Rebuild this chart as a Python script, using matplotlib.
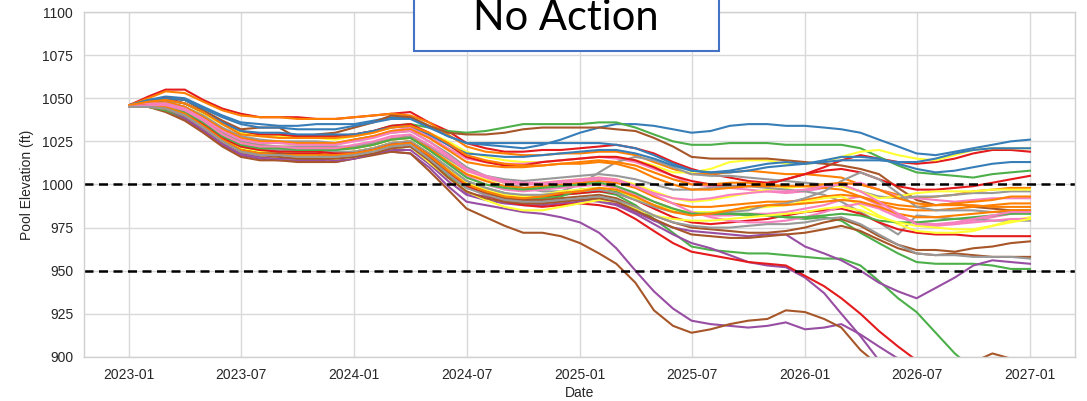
import matplotlib
matplotlib.use("Agg")
import matplotlib.pyplot as plt
import matplotlib.dates as mdates
from matplotlib.patches import Rectangle
import pandas as pd

plt.rcParams['font.family'] = ['Liberation Sans', 'DejaVu Sans']

# monthly pool elevation traces, 2023-01 .. 2027-01 (49 points each)
dates = pd.date_range("2023-01-01", "2027-01-01", freq="MS")

red_1 = [1046,1051,1055,1055,1049,1044,1041,1039,1039,1039,1038,1038, 1039,1040,1041,1042,1036,1031, 1024,1021,1019,1019,1020,1020, 1021,1022,1023,1021,1018,1013,1009,1006,1004,1002,1001,1003, 1006,1010,1014,1017,1015,1013,1012,1013,1015,1018,1020,1020, 1019]
blue_1 = [1046,1049,1051,1050,1045,1040,1036,1035,1034,1034,1035,1035, 1035,1037,1039,1039,1034,1028, 1024,1023,1022,1021,1023,1026, 1030,1033,1035,1035,1034,1032,1030,1031,1034,1035,1035,1034, 1034,1033,1032,1030,1026,1022,1018,1017,1019,1021,1023,1025, 1026]
green_1 = [1046,1048,1049,1047,1042,1035,1030,1029,1028,1028,1028,1028, 1029,1031,1034,1035,1033,1031, 1030,1031,1033,1035,1035,1035, 1035,1036,1036,1033,1029,1025,1023,1023,1024,1024,1024,1023, 1023,1023,1023,1021,1016,1011,1007,1006,1005,1004,1006,1007, 1008]
purple_1 = [1045,1045,1043,1038,1031,1023,1017,1015,1014,1014,1014,1013, 1015,1018,1019,1018,1010,999, 990,988,986,984,983,981, 978,972,963,950,938,928,921,919,918,917,918,920, 916,917,919,913,906,899,890,885,882,880,880,880, 880]
orange_1 = [1046,1050,1054,1053,1048,1043,1040,1039,1039,1038,1038,1038, 1039,1040,1041,1040,1036,1029, 1022,1019,1018,1017,1017,1018, 1018,1019,1019,1017,1013,1009,1006,1006,1007,1008,1007,1006, 1006,1005,1004,1000,997,994,992,993,994,996,997,998, 998]
yellow_1 = [1046,1048,1049,1047,1041,1035,1030,1028,1028,1027,1027,1026, 1028,1030,1033,1034,1030,1025, 1019,1016,1014,1013,1013,1014, 1015,1016,1016,1014,1011,1007,1007,1009,1013,1014,1014,1012, 1012,1013,1016,1019,1020,1017,1015,1014,1017,1020,1021,1021, 1021]
brown_1 = [1046,1048,1050,1049,1043,1037,1032,1033,1033,1027,1029,1030, 1033,1036,1040,1039,1034,1030, 1029,1029,1030,1032,1033,1033, 1033,1033,1032,1031,1027,1022,1016,1015,1015,1015,1015,1014, 1013,1012,1011,1009,1006,998,991,988,989,987,986,985, 985]
pink_1 = [1046,1047,1048,1045,1039,1032,1027,1025,1024,1024,1023,1023, 1026,1028,1031,1033,1028,1021, 1015,1013,1012,1012,1013,1014, 1015,1016,1015,1013,1009,1005,1000,999,998,997,996,995, 996,998,1000,1001,997,993,992,991,990,991,992,992, 992]
gray_1 = [1046,1047,1048,1045,1040,1033,1028,1026,1025,1025,1025,1024, 1026,1028,1030,1031,1025,1018, 1010,1005,1001,998,996,996, 1000,1007,1013,1016,1014,1010,1006,1005,1005,1004,1003,1002, 1001,1000,999,996,993,992,993,993,994,995,995,996, 996]

red_2 = [1046,1048,1050,1047,1042,1036,1031,1029,1029,1028,1028,1028, 1029,1031,1034,1035,1030,1023, 1016,1013,1011,1011,1013,1014, 1015,1016,1016,1014,1010,1005,1002,1000,999,999,1000,1003, 1006,1008,1009,1007,1003,999,997,997,998,999,1001,1003, 1005]
blue_2 = [1046,1049,1050,1049,1044,1039,1035,1033,1033,1032,1032,1032, 1034,1036,1038,1038,1033,1028, 1024,1024,1024,1024,1024,1024, 1024,1024,1023,1021,1017,1012,1008,1007,1008,1010,1012,1013, 1012,1013,1014,1014,1014,1013,1013,1015,1018,1020,1021,1021, 1021]
green_2 = [1045,1046,1045,1041,1035,1027,1021,1020,1019,1019,1019,1018, 1019,1021,1024,1025,1018,1010, 1002,998,995,993,993,994, 995,996,994,988,980,972,964,962,961,960,960,959, 958,957,957,953,944,934,926,914,902,893,886,880, 880]
purple_2 = [1045,1045,1044,1040,1033,1025,1019,1017,1016,1016,1015,1015, 1016,1019,1021,1022,1014,1005, 995,993,991,990,990,991, 991,990,988,983,977,971,966,963,959,955,953,952, 946,937,925,912,898,888,880,875,870,870,870,870, 870]
orange_2 = [1046,1047,1048,1045,1039,1032,1027,1025,1025,1024,1024,1024, 1026,1028,1031,1032,1027,1020, 1013,1011,1010,1010,1011,1012, 1013,1014,1013,1011,1007,1003,1000,1000,1001,1001,1000,999, 999,998,997,993,990,988,987,988,989,990,991,993, 993]
yellow_2 = [1045,1046,1046,1043,1037,1029,1024,1023,1022,1022,1022,1021, 1022,1024,1027,1028,1022,1014, 1006,1003,1001,1000,1001,1002, 1003,1004,1003,1000,996,992,990,991,993,995,997,998, 999,1000,999,996,992,993,995,996,996,996,997,997, 997]
brown_2 = [1045,1045,1042,1037,1030,1022,1016,1014,1014,1013,1013,1013, 1015,1017,1019,1018,1008,997, 986,981,976,972,972,970, 966,960,954,943,927,918,914,916,919,921,922,927, 926,922,917,904,895,890,887,886,889,897,902,899, 896]
pink_2 = [1045,1046,1046,1042,1036,1028,1023,1021,1020,1020,1020,1020, 1022,1024,1027,1028,1021,1013, 1005,1000,997,996,997,998, 999,1000,998,994,990,986,983,982,982,983,983,984, 986,988,991,993,988,982,977,976,977,979,981,983, 984]
gray_2 = [1045,1046,1047,1044,1038,1030,1025,1023,1022,1022,1022,1022, 1022,1024,1026,1028,1022,1015, 1008,1005,1003,1002,1003,1004, 1005,1006,1005,1003,1000,997,997,998,999,999,998,997, 996,994,990,984,978,971,982,981,980,980,979,979, 979]

red_3 = [1045,1046,1045,1041,1035,1027,1021,1019,1018,1018,1018,1018, 1019,1021,1024,1025,1018,1009, 1001,997,994,993,993,994, 995,996,995,991,986,981,978,977,978,979,980,982, 984,985,986,983,978,974,972,971,971,970,970,970, 970]
blue_3 = [1046,1048,1049,1047,1042,1036,1031,1030,1030,1029,1029,1029, 1029,1031,1033,1034,1029,1023, 1018,1017,1016,1016,1017,1018, 1019,1020,1020,1018,1015,1011,1008,1007,1007,1008,1010,1011, 1012,1014,1016,1016,1015,1012,1009,1007,1008,1010,1012,1013, 1013]
green_3 = [1045,1045,1043,1039,1033,1025,1019,1017,1016,1015,1015,1015, 1016,1019,1021,1022,1014,1005, 998,995,993,992,992,993, 997,998,996,992,988,985,983,983,983,982,982,981, 980,981,979,972,966,960,955,954,954,954,953,951, 951]
purple_3 = [1045,1045,1044,1039,1032,1024,1018,1016,1015,1015,1015,1014, 1015,1018,1020,1020,1012,1002, 994,991,989,988,988,989, 990,991,989,984,979,975,973,972,971,970,971,971, 964,960,956,950,943,938,934,940,946,953,956,955, 954]
orange_3 = [1045,1046,1046,1043,1037,1029,1024,1022,1021,1021,1021,1021, 1021,1023,1026,1027,1021,1013, 1006,1002,999,998,999,1000, 1001,1002,1001,998,993,989,987,987,988,989,990,990, 991,993,994,993,989,986,985,985,986,987,988,989, 989]
yellow_3 = [1045,1046,1045,1041,1035,1027,1021,1019,1019,1019,1019,1018, 1019,1021,1024,1025,1018,1009, 1001,997,994,993,994,996, 997,998,997,992,988,985,984,984,985,986,987,988, 990,992,993,988,982,977,973,972,972,973,976,979, 981]
brown_3 = [1045,1046,1044,1040,1034,1026,1020,1018,1018,1017,1017,1017, 1018,1020,1023,1024,1016,1007, 999,995,992,991,991,992, 993,994,992,987,982,978,975,974,973,972,972,973, 975,978,980,976,970,965,962,962,961,963,964,966, 967]
pink_3 = [1046,1047,1047,1044,1038,1031,1026,1024,1024,1023,1023,1023, 1025,1027,1030,1031,1025,1017, 1009,1005,1002,1001,1001,1002, 1003,1004,1003,999,994,989,984,981,979,978,978,979, 981,984,987,989,986,981,978,977,977,978,979,980, 980]
gray_3 = [1045,1046,1045,1042,1036,1028,1022,1020,1020,1019,1019,1019, 1019,1021,1024,1025,1018,1010, 1002,998,995,994,994,995, 996,997,995,991,987,984,983,983,984,985,988,989, 992,996,1002,1007,1003,995,987,985,985,985,984,984, 985]

red_4 = [1045,1046,1045,1041,1035,1027,1022,1020,1019,1019,1019,1018, 1018,1020,1023,1024,1017,1008, 999,994,990,988,987,988, 989,988,986,980,973,966,961,959,957,955,954,953, 947,941,934,925,915,906,898,892,886,882,880,880, 880]
green_4 = [1045,1045,1045,1042,1036,1028,1023,1021,1021,1020,1020,1020, 1021,1023,1026,1027,1020,1012, 1004,1000,998,997,998,999, 1000,1001,999,995,990,986,983,983,983,983,982,981, 981,982,983,982,979,978,978,979,980,981,982,983, 983]
orange_4 = [1045,1046,1045,1041,1034,1026,1020,1018,1017,1017,1017,1017, 1018,1020,1023,1024,1017,1008, 1000,996,993,992,993,995, 996,998,997,993,988,984,982,983,985,987,988,988, 989,990,991,990,987,983,981,981,982,983,984,985, 985]
orange_5 = [1046,1048,1049,1047,1042,1035,1029,1028,1027,1027,1027,1027, 1028,1030,1033,1034,1030,1024, 1017,1014,1012,1011,1011,1012, 1012,1013,1012,1009,1004,1000,997,997,998,999,999,999, 999,1000,1001,1000,997,992,989,988,988,988,987,987, 987]
yellow_4 = [1045,1045,1044,1040,1033,1025,1019,1017,1016,1016,1016,1015, 1016,1019,1021,1022,1013,1004, 996,991,987,985,985,987, 989,991,990,986,982,980,979,979,980,981,982,983, 984,986,987,985,981,978,976,975,974,974,976,978, 980]
brown_4 = [1045,1045,1044,1040,1033,1025,1019,1017,1016,1015,1015,1015, 1016,1018,1021,1022,1014,1004, 996,992,990,989,989,990, 991,992,990,985,980,975,971,970,969,969,970,971, 972,974,976,973,968,963,960,959,960,959,958,958, 958]
pink_4 = [1045,1046,1046,1043,1037,1029,1024,1022,1022,1021,1021,1021, 1023,1025,1028,1029,1023,1016, 1008,1004,1001,1000,1000,1001, 1002,1003,1002,999,995,992,991,992,994,995,996,996, 997,999,1000,996,990,983,977,977,978,980,982,984, 984]
gray_4 = [1045,1045,1044,1040,1033,1025,1019,1017,1017,1016,1016,1016, 1017,1019,1022,1023,1015,1006, 998,994,991,990,990,991, 992,993,991,987,982,978,976,975,975,976,977,977, 978,980,981,977,971,965,960,959,959,958,958,958, 957]

traces = [red_1, blue_1, green_1, purple_1, orange_1, yellow_1, brown_1, pink_1, gray_1,
          red_2, blue_2, green_2, purple_2, orange_2, yellow_2, brown_2, pink_2, gray_2,
          red_3, blue_3, green_3, purple_3, orange_3, yellow_3, brown_3, pink_3, gray_3,
          red_4, green_4, orange_4, orange_5, yellow_4, brown_4, pink_4, gray_4]

RED, BLUE, GREEN, PURPLE = '#e41a1c', '#377eb8', '#4daf4a', '#984ea3'
ORANGE, YELLOW, BROWN, PINK, GRAY = '#ff7f00', '#ffff33', '#a65628', '#f781bf', '#999999'
colors = [RED, BLUE, GREEN, PURPLE, ORANGE, YELLOW, BROWN, PINK, GRAY,
          RED, BLUE, GREEN, PURPLE, ORANGE, YELLOW, BROWN, PINK, GRAY,
          RED, BLUE, GREEN, PURPLE, ORANGE, YELLOW, BROWN, PINK, GRAY,
          RED, GREEN, ORANGE, ORANGE, YELLOW, BROWN, PINK, GRAY]

thresholds = [1000, 950]

fig = plt.figure(figsize=(10.87, 4.01), dpi=100)
ax = fig.add_axes([0.0775, 0.11, 0.9115, 0.86])

for vals, c in zip(traces, colors):
    ax.plot(dates, vals, color=c, lw=1.5)

for t in thresholds:
    ax.axhline(t, color='black', lw=1.8, dashes=(3.6, 2.2))

ax.set_ylim(900, 1100)
ax.set_yticks(range(900, 1101, 25))
ax.xaxis.set_major_locator(mdates.MonthLocator(bymonth=[1, 7]))
ax.xaxis.set_major_formatter(mdates.DateFormatter('%Y-%m'))

ax.grid(True, color='#d9d9d9', lw=1)
ax.set_axisbelow(True)
for s in ax.spines.values():
    s.set_color('#d0d0d0')
    s.set_linewidth(1)
ax.tick_params(length=0, pad=8, labelsize=10, colors='#262626')
ax.set_xlabel('Date', fontsize=10, color='#262626', labelpad=3)
ax.set_ylabel('Pool Elevation (ft)', fontsize=10, color='#262626', labelpad=6)

# title box (text box sitting on top of the chart, its top runs off the figure)
box = Rectangle((0.3809, 0.8728), 0.2806, 0.3, transform=fig.transFigure,
                facecolor='white', edgecolor='#4472c4', lw=1.5, zorder=5)
fig.add_artist(box)
fig.text(0.5207, 0.925, 'No Action', ha='center', va='baseline',
         fontsize=30, family=['Lato', 'DejaVu Sans'], color='black', zorder=6)

fig.savefig('out.png', dpi=100)
